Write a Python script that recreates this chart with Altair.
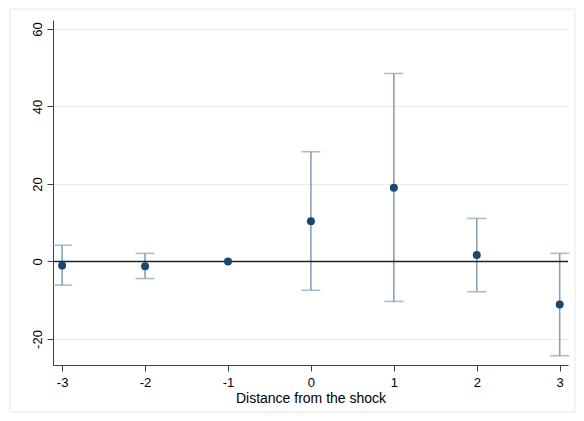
import altair as alt
import pandas as pd

# Data
distance = [-3, -2, -1, 0, 1, 2, 3]
estimate = [-1.0, -1.2, 0.0, 10.4, 19.0, 1.7, -11.1]
ci_low = [-6.1, -4.4, None, -7.4, -10.3, -7.8, -24.3]
ci_high = [4.2, 2.1, None, 28.3, 48.5, 11.1, 2.1]
x_ticks = [-3, -2, -1, 0, 1, 2, 3]
y_ticks = [-20, 0, 20, 40, 60]

df = pd.DataFrame({"d": distance, "est": estimate, "lo": ci_low, "hi": ci_high})

NAVY = "#1a476f"
BAR = "#86a0ba"

xs = alt.Scale(domain=[-3.11, 3.1], nice=False, zero=False)
ys = alt.Scale(domain=[-26.7, 62.3], nice=False, zero=False)

x_axis = alt.Axis(values=x_ticks, labelExpr="'' + datum.value", grid=False,
                  title="Distance from the shock", titleFontSize=14,
                  titleFontWeight="normal", titleColor="#000000",
                  titlePadding=2, labelFontSize=13, labelColor="#000000",
                  labelPadding=5, tickSize=6, tickColor="#404040",
                  domainColor="#404040", labelFont="Liberation Sans",
                  titleFont="Liberation Sans")
y_axis = alt.Axis(values=y_ticks, labelExpr="'' + datum.value", grid=True,
                  gridColor="#eaeaea", gridWidth=1.2, title=None,
                  labelAngle=270, labelAlign="center", labelBaseline="bottom",
                  labelFontSize=13, labelColor="#000000", labelPadding=3,
                  tickSize=6, tickColor="#404040", domainColor="#404040",
                  labelFont="Liberation Sans")

base = alt.Chart(df)

border = alt.Chart(pd.DataFrame({"k": [0]})).mark_rect(
    filled=False, stroke="#e8e8e8", strokeWidth=1
).encode(x=alt.value(-43), x2=alt.value(522), y=alt.value(-11), y2=alt.value(392))

zero = alt.Chart(pd.DataFrame({"z": [0]})).mark_rule(
    color="#222222", strokeWidth=1.3
).encode(y=alt.Y("z:Q", scale=ys, axis=y_axis))

ci = base.transform_filter("isValid(datum.lo)")

bars = ci.mark_rule(color=BAR, strokeWidth=1.6).encode(
    x=alt.X("d:Q", scale=xs, axis=x_axis),
    y=alt.Y("lo:Q", scale=ys, axis=y_axis),
    y2="hi:Q",
)
cap_lo = ci.mark_tick(orient="horizontal", size=19, thickness=1.6, color=BAR).encode(
    x=alt.X("d:Q", scale=xs), y=alt.Y("lo:Q", scale=ys)
)
cap_hi = ci.mark_tick(orient="horizontal", size=19, thickness=1.6, color=BAR).encode(
    x=alt.X("d:Q", scale=xs), y=alt.Y("hi:Q", scale=ys)
)
points = base.mark_point(filled=True, size=64, color=NAVY, opacity=1).encode(
    x=alt.X("d:Q", scale=xs), y=alt.Y("est:Q", scale=ys)
)

chart = alt.layer(border, bars, zero, cap_lo, cap_hi, points).properties(
    width=515, height=345,
    padding={"left": 45, "top": 12, "right": 8, "bottom": 48},
    autosize=alt.AutoSizeParams(type="none"),
    background="white",
).configure_view(stroke=None)

chart.save("out.html", embed_options={"renderer": "svg", "actions": False})
